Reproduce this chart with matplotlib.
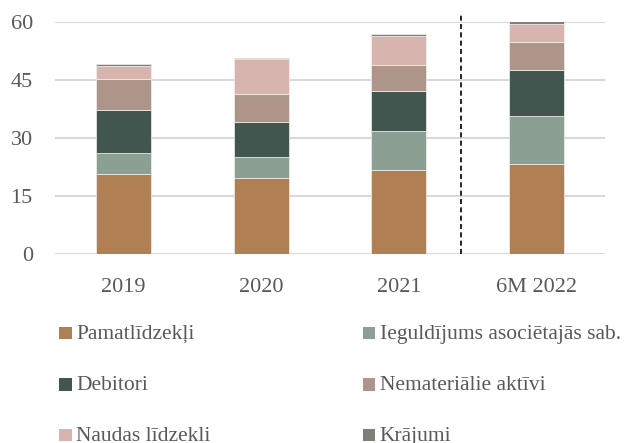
import matplotlib
matplotlib.use("Agg")
import matplotlib.pyplot as plt
from matplotlib.patches import Rectangle

categories = ["2019", "2020", "2021", "6M 2022"]
series_names = ["Pamatlīdzekļi", "Ieguldījums asociētajās sab.", "Debitori",
                "Nemateriālie aktīvi", "Naudas līdzekli", "Krājumi"]
pamat = [20.6, 19.7, 21.6, 23.35]
ieguld = [5.4, 5.3, 10.2, 12.25]
debitori = [11.2, 9.05, 10.35, 12.0]
nemater = [8.05, 7.35, 6.75, 7.15]
naudas = [3.35, 9.0, 7.55, 4.75]
krajumi = [0.5, 0.3, 0.5, 0.75]
y_ticks = [0, 15, 30, 45, 60]

colors = ["#B07F53", "#8C9F93", "#41564E", "#AD9689", "#D8B4AF", "#7F7F7A"]
values = [pamat, ieguld, debitori, nemater, naudas, krajumi]

W, H = 644, 443
plt.rcParams['font.family'] = ['Liberation Serif', 'DejaVu Serif']
fig = plt.figure(figsize=(W / 100, H / 100), dpi=100)
ax = fig.add_axes([55 / W, 1 - 254 / H, 550 / W, 232 / H])

x = list(range(len(categories)))
bottom = [0.0] * len(categories)
for name, vals, c in zip(series_names, values, colors):
    ax.bar(x, vals, width=0.4, bottom=bottom, color=c, edgecolor="#F4F0EE",
           linewidth=0.5, label=name, zorder=3)
    bottom = [b + v for b, v in zip(bottom, vals)]

ax.set_xlim(-0.5, 3.5)
ax.set_ylim(0, 60)
ax.set_yticks(y_ticks)
ax.set_xticks(x)
ax.set_xticklabels(categories)
ax.grid(axis="y", color="#D9D9D9", linewidth=1.5, zorder=0)
for s in ax.spines.values():
    s.set_visible(False)
ax.tick_params(length=0, labelsize=16, colors="#595959")
ax.tick_params(axis="x", pad=17)
ax.tick_params(axis="y", pad=16)

ax.axvline(2.45, ymin=0, ymax=1.03, color="black", linestyle=(0, (3, 2)),
           linewidth=1.2, clip_on=False, zorder=4)

# legend laid out in two columns, three rows
col_x = [59.5, 362.5]
row_base = [339, 390.5, 441]
for k in range(len(series_names)):
    cx = col_x[k % 2]
    by = row_base[k // 2]
    fig.add_artist(Rectangle((cx / W, 1 - by / H), 12.5 / W, 12.5 / H,
                             transform=fig.transFigure, facecolor=colors[k],
                             edgecolor="none"))
    fig.text((cx + 17) / W, 1 - by / H, series_names[k], fontsize=15.5,
             color="#595959", ha="left", va="baseline")

fig.savefig("out.png", dpi=100)
